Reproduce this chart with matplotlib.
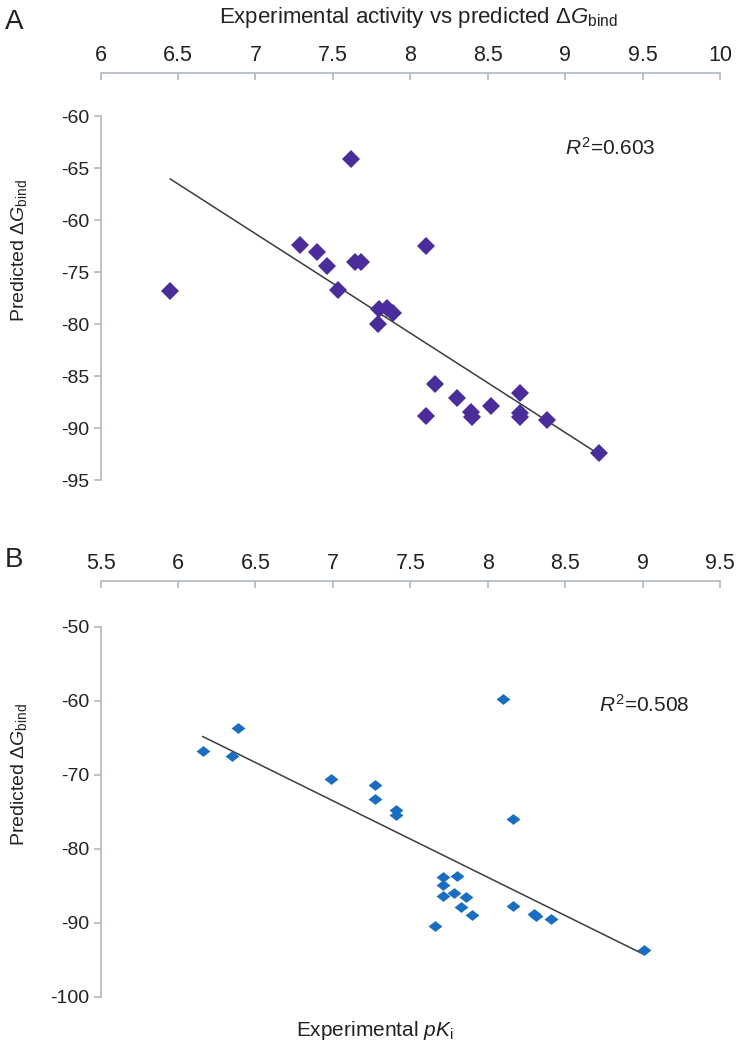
"""
plot.py

Two stacked scatter panels: experimental pKi vs predicted dG_bind,
each with a linear trendline and an R^2 note.
"""

import numpy as np
import matplotlib
matplotlib.use("Agg")
import matplotlib.pyplot as plt
from matplotlib.path import Path

# ─── Data ──────────────────────────────────────────────────────────────────────
# panel A
a_pki = [6.45, 7.62, 7.29, 7.40, 7.46, 7.64, 7.68, 7.53, 7.80, 7.85,
         7.89, 7.79, 8.10, 8.16, 8.10, 8.30, 8.39, 8.40, 8.52, 8.71,
         8.71, 8.71, 8.88, 9.22]
a_dg = [-76.8, -64.1, -72.4, -73.1, -74.4, -74.0, -74.0, -76.7, -78.6, -78.5,
        -78.9, -80.0, -72.5, -85.8, -88.8, -87.1, -88.5, -88.9, -87.9, -86.6,
        -88.6, -88.9, -89.2, -92.4]
a_xticks = [6, 6.5, 7, 7.5, 8, 8.5, 9, 9.5, 10]
a_yticks = [-60, -65, -70, -75, -80, -85, -90, -95]
a_ylabels = ["-60", "-65", "-60", "-75", "-80", "-85", "-90", "-95"]
a_r2 = "0.603"

# panel B
b_pki = [6.16, 6.35, 6.39, 6.99, 7.27, 7.27, 7.41, 7.41, 8.10, 8.16,
         7.71, 7.71, 7.71, 7.80, 7.78, 7.86, 7.83, 7.90, 7.66, 8.16,
         8.30, 8.31, 8.41, 9.01]
b_dg = [-66.7, -67.4, -63.6, -70.5, -71.3, -73.2, -74.8, -75.4, -59.7, -76.0,
        -83.8, -84.9, -86.4, -83.6, -85.9, -86.5, -87.9, -88.9, -90.4, -87.7,
        -88.8, -89.1, -89.5, -93.6]
b_xticks = [5.5, 6, 6.5, 7, 7.5, 8, 8.5, 9, 9.5]
b_yticks = [-50, -60, -70, -80, -90, -100]
b_ylabels = ["-50", "-60", "-70", "-80", "-90", "-100"]
b_r2 = "0.508"
# ────────────────────────────────────────────────────────────────────────────────

plt.rcParams["font.family"] = ["Liberation Sans", "DejaVu Sans"]
plt.rcParams["mathtext.fontset"] = "custom"
plt.rcParams["mathtext.rm"] = "Liberation Sans"
plt.rcParams["mathtext.it"] = "Liberation Sans:italic"
plt.rcParams["axes.unicode_minus"] = False

SPINE = "#b0b8c4"
TXT = "#222222"

# flattened diamond for panel B
flat_diamond = Path([(-1, 0), (0, 0.78), (1, 0), (0, -0.78), (-1, 0)],
                    [Path.MOVETO, Path.LINETO, Path.LINETO, Path.LINETO, Path.CLOSEPOLY])


def style_axes(ax, xticks, yticks, ylabels, gap):
    ax.set_xlim(xticks[0], xticks[-1])
    ax.set_ylim(min(yticks), max(yticks))
    for side in ["right", "bottom"]:
        ax.spines[side].set_visible(False)
    for side in ["top", "left"]:
        ax.spines[side].set_color(SPINE)
        ax.spines[side].set_linewidth(1.2)
    ax.spines["top"].set_position(("outward", gap))
    ax.xaxis.tick_top()
    ax.set_xticks(xticks)
    ax.set_xticklabels([f"{t:g}" for t in xticks])
    ax.set_yticks(yticks, labels=ylabels)
    ax.tick_params(axis="x", direction="in", length=5, color=SPINE, width=1.2,
                   labelsize=15.5, labelcolor=TXT, pad=5)
    ax.tick_params(axis="y", direction="out", length=5, color=SPINE, width=1.2,
                   labelsize=14, labelcolor=TXT, pad=3)
    ax.set_ylabel(r"Predicted $\Delta G_{\rm bind}$", fontsize=14, color=TXT)


def draw_panel(ax, x, y, color, marker, ms):
    x = np.asarray(x)
    y = np.asarray(y)
    slope, icpt = np.polyfit(x, y, 1)
    xs = np.array([x.min(), x.max()])
    ax.plot(xs, slope * xs + icpt, color="#3c3c3c", linewidth=1.1, zorder=2)
    ax.plot(x, y, linestyle="none", marker=marker, markersize=ms,
            color=color, markeredgewidth=0, zorder=3)


fig = plt.figure(figsize=(7.4, 10.49), dpi=100)

ax_a = fig.add_axes([0.136, 0.5424, 0.837, 0.347])
draw_panel(ax_a, a_pki, a_dg, "#4a2d9a", "D", 9)
style_axes(ax_a, a_xticks, a_yticks, a_ylabels, 31)
ax_a.yaxis.set_label_coords(-0.115, 0.63)
ax_a.text(9.0, -63.1, rf"$R^2$=" + a_r2, fontsize=15, color=TXT, va="center")

ax_b = fig.add_axes([0.136, 0.0496, 0.837, 0.3527])
draw_panel(ax_b, b_pki, b_dg, "#1a6ec2", flat_diamond, 10)
style_axes(ax_b, b_xticks, b_yticks, b_ylabels, 33)
ax_b.yaxis.set_label_coords(-0.115, 0.60)
ax_b.text(8.72, -60.5, rf"$R^2$=" + b_r2, fontsize=15, color=TXT, va="center")

fig.text(418 / 740, 1 - 18 / 1049, r"Experimental activity vs predicted $\Delta G_{\rm bind}$",
         fontsize=16, color=TXT, ha="center", va="center")
fig.text(375 / 740, 1 - 1030 / 1049, r"Experimental $pK_{\rm i}$",
         fontsize=15, color=TXT, ha="center", va="center")
fig.text(14 / 740, 1 - 22 / 1049, "A", fontsize=20, color=TXT, ha="center", va="center")
fig.text(14 / 740, 1 - 560 / 1049, "B", fontsize=20, color=TXT, ha="center", va="center")

fig.savefig("out.png", dpi=100)
